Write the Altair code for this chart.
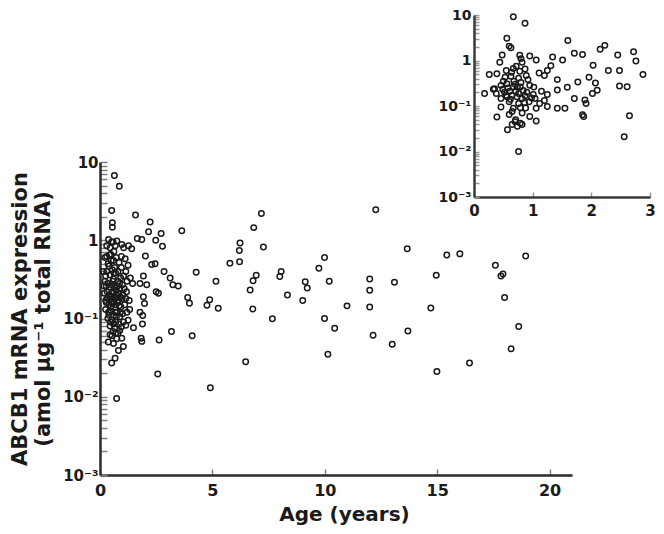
import altair as alt
import pandas as pd

# ---------------- main panel data (age in years, ABCB1 expression) ----------------
main_age = [
    # outer points, age < 3
    0.64, 0.86, 0.52, 0.55, 0.55, 1.58, 2.23, 2.16, 2.72, 2.78, 2.48, 1.66, 1.86,
    2.02, 2.30, 2.45, 2.85, 1.93, 1.78, 2.08, 2.50, 2.60, 1.93, 1.98, 1.78, 1.90,
    1.89, 1.49, 1.83, 1.86, 2.63, 2.57, 0.74,
    # dense cluster, age < 1.5
    0.38, 0.52, 0.75, 0.97, 1.05, 1.27, 1.41, 0.45, 0.62,
    0.30, 0.48, 0.60, 0.72, 0.85, 1.12, 1.25, 0.40, 0.95, 0.55, 0.30, 0.15,
    0.25, 0.45, 0.60, 0.70, 0.80, 0.92, 1.05, 1.20, 0.35, 0.52, 0.65, 0.78, 0.88,
    1.00, 1.35, 1.45,
    0.20, 0.32, 0.42, 0.50, 0.58, 0.66, 0.74, 0.82, 0.90, 1.02, 1.15, 0.28, 0.40,
    0.55, 0.70, 0.85, 1.10, 1.30, 0.62, 0.45,
    0.25, 0.38, 0.50, 0.62, 0.75, 0.88, 1.00, 1.20, 0.35, 0.55, 0.70, 0.85, 1.05,
    1.25, 0.45, 0.65, 0.95, 1.15, 0.58, 0.80,
    0.37, 0.97, 0.52, 0.67, 0.82, 1.04, 0.60, 0.75, 0.45,
    0.22, 0.33, 0.43, 0.48, 0.53, 0.57, 0.63, 0.68, 0.72, 0.77, 0.83, 0.87, 0.93,
    0.98, 1.08, 0.28, 0.40, 0.47, 0.60, 0.73, 0.90, 0.36, 0.50, 0.65, 0.80, 0.42,
    0.68, 0.58, 0.30, 0.22, 0.18, 0.25, 0.53, 0.70, 0.88, 1.18, 1.32, 0.62, 0.95,
    1.15,
    # age >= 3
    3.64, 4.28, 5.16, 4.10, 4.91, 5.78, 5.26, 4.88, 4.76, 3.90, 3.98, 3.48, 3.12,
    3.24, 3.18,
    7.18, 6.84, 6.23, 6.20, 6.21, 7.27, 6.95, 6.81, 6.68, 6.80, 6.48, 8.06, 8.00,
    8.34, 7.67, 9.13, 9.22, 9.02, 9.99, 9.74, 10.2, 9.99, 10.44, 10.14, 10.99,
    12.27, 12.0, 12.0, 12.0, 12.15, 13.1, 13.0, 13.67, 13.7,
    15.43, 16.01, 14.96, 14.72, 14.99, 16.44, 17.59, 17.93, 17.84, 18.94, 18.0,
    18.63, 18.29,
]
main_expr = [
    6.7, 4.9, 2.4, 1.68, 1.47, 2.1, 1.71, 1.28, 1.22, 0.84, 1.0, 1.05, 1.02,
    0.63, 0.49, 0.50, 0.40, 0.35, 0.28, 0.27, 0.22, 0.21, 0.19, 0.156, 0.12, 0.109,
    0.085, 0.076, 0.056, 0.051, 0.053, 0.0195, 0.0095,
    1.02, 0.95, 0.98, 0.88, 0.80, 0.85, 0.78, 0.80, 0.72,
    0.62, 0.66, 0.55, 0.60, 0.52, 0.58, 0.48, 0.47, 0.45, 0.42, 0.40, 0.40,
    0.35, 0.36, 0.32, 0.38, 0.30, 0.33, 0.35, 0.30, 0.28, 0.27, 0.25, 0.26, 0.24,
    0.27, 0.33, 0.28,
    0.21, 0.22, 0.20, 0.19, 0.21, 0.18, 0.20, 0.17, 0.19, 0.20, 0.18, 0.16, 0.15,
    0.155, 0.15, 0.145, 0.15, 0.17, 0.165, 0.175,
    0.13, 0.12, 0.125, 0.11, 0.12, 0.105, 0.115, 0.12, 0.10, 0.095, 0.09, 0.085,
    0.09, 0.095, 0.08, 0.075, 0.078, 0.082, 0.068, 0.065,
    0.05, 0.056, 0.027, 0.031, 0.039, 0.044, 0.048, 0.055, 0.062,
    0.30, 0.18, 0.25, 0.14, 0.22, 0.30, 0.19, 0.12, 0.23, 0.16, 0.21, 0.28, 0.14,
    0.18, 0.24, 0.26, 0.11, 0.09, 0.085, 0.105, 0.12, 0.50, 0.55, 0.45, 0.40, 0.65,
    0.85, 0.95, 0.85, 0.60, 0.26, 0.17, 0.06, 0.065, 0.07, 0.22, 0.13, 0.38, 0.62,
    0.40,
    1.32, 0.39, 0.30, 0.060, 0.013, 0.51, 0.135, 0.174, 0.148, 0.186, 0.157, 0.26,
    0.33, 0.27, 0.068,
    2.19, 1.45, 0.92, 0.74, 0.53, 0.82, 0.356, 0.304, 0.231, 0.132, 0.028, 0.40,
    0.345, 0.20, 0.099, 0.295, 0.245, 0.17, 0.60, 0.44, 0.30, 0.10, 0.075, 0.035,
    0.145, 2.45, 0.32, 0.23, 0.14, 0.061, 0.29, 0.047, 0.78, 0.069,
    0.65, 0.67, 0.356, 0.136, 0.021, 0.027, 0.48, 0.37, 0.35, 0.63, 0.185,
    0.079, 0.041,
]

# ---------------- inset data (first three years) ----------------
inset_age = [
    0.67, 0.87, 0.56, 0.60, 0.63, 1.60, 2.23, 2.15, 2.72, 1.71, 1.85,
    0.48, 0.78, 0.95, 0.80, 1.34, 1.51, 1.06, 0.44, 0.82, 2.45, 2.76,
    2.03, 1.31, 0.55, 0.26, 0.39, 0.67, 0.87, 1.11, 1.25, 2.29, 2.48, 2.88,
    0.53, 0.63, 0.76, 0.89, 1.20, 1.42, 1.96, 1.77, 2.07,
    0.35, 0.46, 0.56, 0.67, 0.79, 0.95, 0.33, 0.49, 0.61, 0.71, 1.15, 1.42, 1.59,
    2.48, 2.61, 2.10, 2.02,
    0.18, 0.38, 0.55, 0.65, 0.76, 0.87, 1.01, 1.25,
    0.46, 0.82, 1.04, 1.20, 1.71, 1.89, 0.60, 0.76, 0.94, 1.12,
    0.46, 0.67, 0.79, 1.06, 1.25, 1.42, 1.55, 1.91,
    0.65, 0.82, 0.95, 1.85, 1.87, 0.39, 1.06, 2.65,
    0.71, 0.79, 0.65, 0.57, 0.74, 0.82, 0.76, 2.56,
    0.52, 0.58, 0.70, 0.73, 0.84, 0.62, 0.68, 0.56, 0.74, 0.80, 0.86, 0.50,
    0.64, 0.72, 0.78, 0.92, 0.98, 1.02, 0.88, 0.60, 0.70, 0.90,
]
inset_expr = [
    9.2, 6.6, 3.1, 2.07, 1.9, 2.75, 2.15, 1.76, 1.56, 1.44, 1.35,
    1.32, 1.30, 1.26, 1.10, 1.2, 1.03, 1.03, 0.91, 0.91, 1.32, 0.98,
    0.79, 0.77, 0.60, 0.49, 0.51, 0.67, 0.65, 0.53, 0.60, 0.60, 0.60, 0.49,
    0.43, 0.45, 0.41, 0.47, 0.47, 0.38, 0.43, 0.335, 0.32,
    0.24, 0.284, 0.31, 0.261, 0.261, 0.284, 0.233, 0.233, 0.211, 0.211, 0.211,
    0.225, 0.257, 0.275, 0.266, 0.222, 0.188,
    0.188, 0.188, 0.173, 0.173, 0.188, 0.167, 0.179, 0.179,
    0.146, 0.146, 0.146, 0.132, 0.146, 0.135, 0.124, 0.114, 0.124, 0.114,
    0.095, 0.089, 0.092, 0.089, 0.097, 0.089, 0.089, 0.114,
    0.076, 0.070, 0.059, 0.064, 0.059, 0.057, 0.047, 0.061,
    0.050, 0.042, 0.039, 0.030, 0.036, 0.039, 0.010, 0.021,
    0.20, 0.25, 0.30, 0.16, 0.22, 0.14, 0.35, 0.16, 0.26, 0.33, 0.12, 0.35,
    0.55, 0.75, 0.58, 0.38, 0.15, 0.26, 0.09, 0.065, 0.045, 0.20,
]

# axis tick marks (log decades with minor ticks) and labels
log_ticks = [round(m * 10 ** e, 6) for e in range(-3, 1) for m in range(1, 10)] + [10]
decade_label_expr = (
    "datum.value == 10 ? '10' : datum.value == 1 ? '1' : "
    "datum.value == 0.1 ? '10⁻¹' : datum.value == 0.01 ? '10⁻²' : "
    "datum.value == 0.001 ? '10⁻³' : ''"
)
main_x_ticks = [0, 5, 10, 15, 20]
inset_x_ticks = [0, 1, 2, 3]

FONT = "DejaVu Sans"

main_df = pd.DataFrame({"age": main_age, "expr": main_expr})
inset_df = pd.DataFrame({"age_i": inset_age, "expr_i": inset_expr})

point_style = dict(shape="circle", filled=False, size=30, strokeWidth=1.5,
                   color="#1a1a1a", opacity=1)

main = alt.Chart(main_df).mark_point(**point_style).encode(
    x=alt.X(
        "age:Q",
        scale=alt.Scale(domain=[0, 21], range=[0, 472], nice=False, zero=False),
        axis=alt.Axis(
            values=main_x_ticks, title="Age (years)", grid=False, titleX=244,
            domainColor="#2a2a2a", domainWidth=2.5,
            tickColor="#808080", tickWidth=1.5, tickSize=alt.ExprRef(expr="-6"),
            labelPadding=13, labelFont=FONT, labelFontSize=16, labelFontWeight="bold",
            labelColor="#1a1a1a", labelFlush=False, labelOverlap=False,
            titleFont=FONT, titleFontSize=20, titleFontWeight="bold",
            titleColor="#1a1a1a", titlePadding=6,
        ),
    ),
    y=alt.Y(
        "expr:Q",
        scale=alt.Scale(type="log", domain=[0.001, 10], range=[457, 144], nice=False),
        axis=alt.Axis(
            values=log_ticks, labelExpr=decade_label_expr, grid=False,
            title=["ABCB1 mRNA expression", "(amol µg⁻¹ total RNA)"],
            domainColor="#2a2a2a", domainWidth=2.5,
            tickColor="#808080", tickWidth=1.5, tickSize=alt.ExprRef(expr="-7"),
            labelPadding=9, labelFont=FONT, labelFontSize=15, labelFontWeight="bold",
            labelColor="#1a1a1a", labelFlush=False, labelOverlap=False,
            titleFont=FONT, titleFontSize=21, titleFontWeight="bold",
            titleColor="#1a1a1a", titlePadding=9, titleLineHeight=23,
        ),
    ),
)

inset = alt.Chart(inset_df).mark_point(**point_style).encode(
    x=alt.X(
        "age_i:Q",
        scale=alt.Scale(domain=[0, 3], range=[374, 550], nice=False, zero=False),
        axis=alt.Axis(
            orient="bottom", offset=-278, values=inset_x_ticks, title=None, grid=False,
            domainColor="#3a3a3a", domainWidth=2.5,
            tickColor="#999999", tickWidth=1.5, tickSize=alt.ExprRef(expr="-5"),
            labelPadding=11, labelFont=FONT, labelFontSize=15, labelFontWeight="bold",
            labelColor="#1a1a1a", labelFlush=False, labelOverlap=False,
        ),
    ),
    y=alt.Y(
        "expr_i:Q",
        scale=alt.Scale(type="log", domain=[0.001, 10], range=[179, -3], nice=False),
        axis=alt.Axis(
            orient="left", offset=-374, values=log_ticks, labelExpr=decade_label_expr,
            title=None, grid=False,
            domainColor="#3a3a3a", domainWidth=2.5,
            tickColor="#999999", tickWidth=1.5, tickSize=alt.ExprRef(expr="-5"),
            labelPadding=8, labelFont=FONT, labelFontSize=14, labelFontWeight="bold",
            labelColor="#1a1a1a", labelFlush=False, labelOverlap=False,
        ),
    ),
)

chart = (
    alt.layer(main, inset)
    .resolve_scale(x="independent", y="independent")
    .properties(
        width=556, height=457,
        autosize=alt.AutoSizeParams(type="none"),
        padding={"left": 92, "top": 10, "right": 0, "bottom": 51},
        background="white",
    )
    .configure_view(stroke=None)
)

chart.save("out.html", embed_options={"renderer": "svg", "actions": False})
